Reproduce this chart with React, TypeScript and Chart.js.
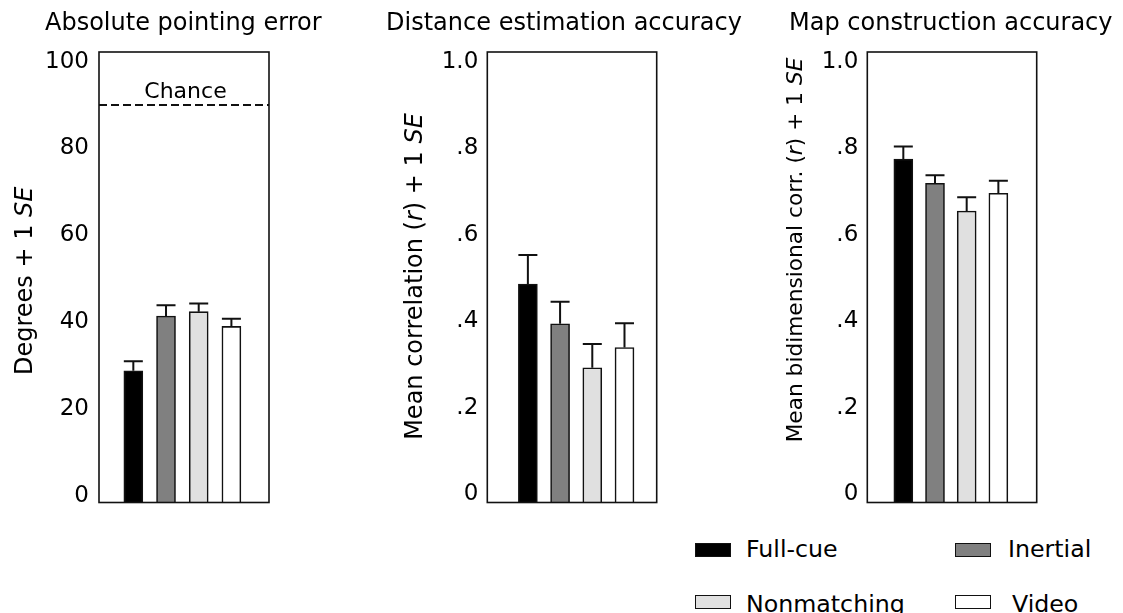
import React, { useEffect, useRef } from "react";
import { Chart, registerables } from "chart.js";

Chart.register(...registerables);

// ---------- data ----------
const conditions = ["Full-cue", "Inertial", "Nonmatching", "Video"];
const barColors = ["#000000", "#808080", "#e0e0e0", "#ffffff"];

const pointingMeans = [28.8, 41.4, 42.4, 39.0];
const pointingSE = [2.2, 2.5, 1.9, 1.8];
const distanceMeans = [0.486, 0.394, 0.292, 0.339];
const distanceSE = [0.067, 0.051, 0.055, 0.056];
const mapMeans = [0.775, 0.719, 0.655, 0.696];
const mapSE = [0.029, 0.019, 0.032, 0.029];
const chanceLevel = 90;

const degreeTicks = [0, 20, 40, 60, 80, 100];
const degreeTickLabels = ["0", "20", "40", "60", "80", "100"];
const corrTicks = [0, 0.2, 0.4, 0.6, 0.8, 1.0];
const corrTickLabels = ["0", ".2", ".4", ".6", ".8", "1.0"];

const FONT = "'DejaVu Sans', sans-serif";
const INK = "#111111";

type Seg = { text: string; italic?: boolean };

interface PanelCfg {
  title: string;
  titleX: number;
  yTitle: Seg[];
  yTitleX: number;
  yTitleY: number;
  yTitleSize: number;
  means: number[];
  se: number[];
  ticks: number[];
  tickLabels: string[];
  yMin: number;
  yMax: number;
  xMin: number;
  xMax: number;
  left: number;
  width: number;
  areaLeft: number;
  areaRight: number;
  tickPadding: number;
  chance?: number;
}

const CANVAS_H = 532;
const AREA_TOP = 52;
const AREA_BOTTOM = 502.5;

const panels: PanelCfg[] = [
  {
    title: "Absolute pointing error",
    titleX: 183.3,
    yTitle: [{ text: "Degrees + 1 " }, { text: "SE", italic: true }],
    yTitleX: 31.7,
    yTitleY: 280.8,
    yTitleSize: 24,
    means: pointingMeans,
    se: pointingSE,
    ticks: degreeTicks,
    tickLabels: degreeTickLabels,
    yMin: -1.54,
    yMax: 102.2,
    xMin: -1.05,
    xMax: 4.15,
    left: 0,
    width: 380,
    areaLeft: 99,
    areaRight: 269,
    tickPadding: 10,
    chance: chanceLevel,
  },
  {
    title: "Distance estimation accuracy",
    titleX: 184,
    yTitle: [
      { text: "Mean correlation (" },
      { text: "r", italic: true },
      { text: ") + 1 " },
      { text: "SE", italic: true },
    ],
    yTitleX: 41.7,
    yTitleY: 276.5,
    yTitleSize: 24,
    means: distanceMeans,
    se: distanceSE,
    ticks: corrTicks,
    tickLabels: corrTickLabels,
    yMin: -0.0197,
    yMax: 1.023,
    xMin: -1.26,
    xMax: 4.0,
    left: 380,
    width: 380,
    areaLeft: 107.3,
    areaRight: 276.7,
    tickPadding: 9,
  },
  {
    title: "Map construction accuracy",
    titleX: 190.8,
    yTitle: [
      { text: "Mean bidimensional corr. (" },
      { text: "r", italic: true },
      { text: ") + 1 " },
      { text: "SE", italic: true },
    ],
    yTitleX: 41.7,
    yTitleY: 250,
    yTitleSize: 21.7,
    means: mapMeans,
    se: mapSE,
    ticks: corrTicks,
    tickLabels: corrTickLabels,
    yMin: -0.0197,
    yMax: 1.023,
    xMin: -1.137,
    xMax: 4.21,
    left: 760,
    width: 363,
    areaLeft: 107.3,
    areaRight: 276.7,
    tickPadding: 9,
  },
];

function makePlugin(cfg: PanelCfg) {
  return {
    id: "panelDecor",
    afterDatasetsDraw(chart: any) {
      const ctx = chart.ctx as CanvasRenderingContext2D;
      const xs = chart.scales.x;
      const ys = chart.scales.y;
      const meta = chart.getDatasetMeta(0);
      ctx.save();
      ctx.strokeStyle = INK;
      ctx.lineWidth = 2;
      cfg.means.forEach((m, i) => {
        const x = xs.getPixelForValue(i);
        const yBar = ys.getPixelForValue(m);
        const yTop = ys.getPixelForValue(m + cfg.se[i]);
        const w = meta.data[i] ? meta.data[i].width : 19;
        ctx.beginPath();
        ctx.moveTo(x, yBar);
        ctx.lineTo(x, yTop);
        ctx.moveTo(x - w / 2, yTop);
        ctx.lineTo(x + w / 2, yTop);
        ctx.stroke();
      });
      if (cfg.chance !== undefined) {
        const area = chart.chartArea;
        const yc = ys.getPixelForValue(cfg.chance);
        ctx.setLineDash([8, 4]);
        ctx.lineWidth = 2;
        ctx.beginPath();
        ctx.moveTo(area.left, yc);
        ctx.lineTo(area.right, yc);
        ctx.stroke();
        ctx.setLineDash([]);
        ctx.fillStyle = "#000";
        ctx.font = `22px ${FONT}`;
        ctx.textAlign = "center";
        ctx.textBaseline = "alphabetic";
        ctx.fillText("Chance", 185.5 - cfg.left, yc - 7);
      }
      ctx.restore();
    },
    afterDraw(chart: any) {
      const ctx = chart.ctx as CanvasRenderingContext2D;
      const a = chart.chartArea;
      ctx.save();
      ctx.strokeStyle = INK;
      ctx.lineWidth = 1.6;
      ctx.strokeRect(a.left, a.top, a.right - a.left, a.bottom - a.top);

      // panel title
      ctx.fillStyle = "#000";
      ctx.font = `24px ${FONT}`;
      ctx.textAlign = "center";
      ctx.textBaseline = "alphabetic";
      ctx.fillText(cfg.title, cfg.titleX, 30);

      // rotated y-axis title with italic segments
      ctx.translate(cfg.yTitleX, cfg.yTitleY);
      ctx.rotate(-Math.PI / 2);
      ctx.textAlign = "left";
      const sz = cfg.yTitleSize;
      const fonts = cfg.yTitle.map((s) => (s.italic ? `italic ${sz}px ${FONT}` : `${sz}px ${FONT}`));
      let total = 0;
      const widths = cfg.yTitle.map((s, i) => {
        ctx.font = fonts[i];
        const w = ctx.measureText(s.text).width;
        total += w;
        return w;
      });
      let x = -total / 2;
      cfg.yTitle.forEach((s, i) => {
        ctx.font = fonts[i];
        ctx.fillText(s.text, x, 0);
        x += widths[i];
      });
      ctx.restore();
    },
  };
}

function Panel({ cfg }: { cfg: PanelCfg }) {
  const ref = useRef<HTMLCanvasElement>(null);
  useEffect(() => {
    if (!ref.current) return;
    const chart = new Chart(ref.current, {
      type: "bar",
      data: {
        labels: conditions,
        datasets: [
          {
            label: cfg.title,
            data: cfg.means.map((m, i) => ({ x: i, y: m })) as any,
            backgroundColor: barColors,
            borderColor: INK,
            borderWidth: 1.6,
            barThickness: 19,
            base: cfg.yMin,
            borderSkipped: "start",
          } as any,
        ],
      },
      options: {
        responsive: false,
        animation: false,
        devicePixelRatio: window.devicePixelRatio || 1,
        layout: {
          padding: {
            left: 0,
            right: cfg.width - cfg.areaRight,
            top: AREA_TOP,
            bottom: CANVAS_H - AREA_BOTTOM,
          },
        },
        plugins: {
          legend: { display: false },
          title: { display: false },
          tooltip: { enabled: false },
        },
        scales: {
          x: {
            type: "linear",
            display: false,
            min: cfg.xMin,
            max: cfg.xMax,
            offset: false,
          },
          y: {
            type: "linear",
            min: cfg.yMin,
            max: cfg.yMax,
            grid: { display: false, drawTicks: false },
            border: { display: false },
            ticks: {
              autoSkip: false,
              padding: cfg.tickPadding,
              color: "#000",
              font: { size: 23, family: FONT },
              callback: (_v: any, i: number) => cfg.tickLabels[i],
            },
            afterBuildTicks: (s: any) => {
              s.ticks = cfg.ticks.map((v) => ({ value: v }));
            },
            afterFit: (s: any) => {
              s.width = cfg.areaLeft;
            },
          },
        },
      } as any,
      plugins: [makePlugin(cfg)],
    });
    return () => chart.destroy();
  }, [cfg]);
  return (
    <canvas
      ref={ref}
      width={cfg.width}
      height={CANVAS_H}
      style={{ position: "absolute", left: cfg.left, top: 0, width: cfg.width, height: CANVAS_H }}
    />
  );
}

const legendItems = [
  { label: conditions[0], color: barColors[0], boxLeft: 695, boxTop: 543, textLeft: 746, baseline: 557 },
  { label: conditions[1], color: barColors[1], boxLeft: 955, boxTop: 543, textLeft: 1008, baseline: 557 },
  { label: conditions[2], color: barColors[2], boxLeft: 695, boxTop: 595, textLeft: 746, baseline: 611.5 },
  { label: conditions[3], color: barColors[3], boxLeft: 955, boxTop: 595, textLeft: 1012, baseline: 611.5 },
];

export default function App() {
  return (
    <div
      style={{
        position: "absolute",
        left: 0,
        top: 0,
        width: 1123,
        height: 613,
        background: "#fff",
        overflow: "hidden",
        fontFamily: FONT,
      }}
    >
      {panels.map((p, i) => (
        <Panel key={i} cfg={p} />
      ))}
      {legendItems.map((it, i) => (
        <React.Fragment key={i}>
          <div
            style={{
              position: "absolute",
              left: it.boxLeft,
              top: it.boxTop,
              width: 36,
              height: 14,
              boxSizing: "border-box",
              background: it.color,
              border: `1.5px solid ${INK}`,
            }}
          />
          <div
            style={{
              position: "absolute",
              left: it.textLeft,
              top: it.baseline - 20,
              fontSize: 23.7,
              lineHeight: "24px",
              whiteSpace: "nowrap",
              color: "#000",
            }}
          >
            {it.label}
          </div>
        </React.Fragment>
      ))}
    </div>
  );
}
